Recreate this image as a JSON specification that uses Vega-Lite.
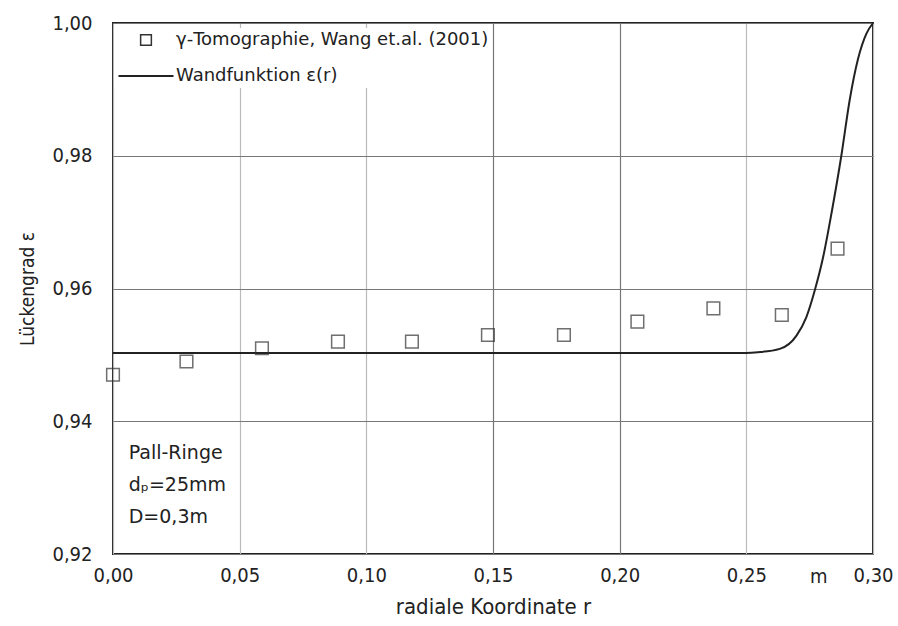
{
  "$schema": "https://vega.github.io/schema/vega-lite/v6.json",
  "width": 760,
  "height": 531,
  "autosize": {"type": "none"},
  "padding": {"left": 113, "top": 23, "right": 25, "bottom": 72},
  "config": {
    "locale": {"number": {"decimal": ",", "thousands": ".", "grouping": [3], "currency": ["", " €"]}},
    "font": "DejaVu Sans Condensed, DejaVu Sans",
    "view": {"stroke": "#222", "strokeWidth": 2},
    "axis": {
      "labelFont": "DejaVu Sans Condensed, DejaVu Sans",
      "labelFontSize": 20,
      "labelColor": "#222",
      "titleFont": "DejaVu Sans Condensed, DejaVu Sans",
      "titleFontWeight": "normal",
      "titleColor": "#222",
      "domain": false,
      "ticks": false,
      "labelFlush": false
    }
  },
  "datasets": {
    "points": [
      {"r": 0.0, "eps": 0.947, "series": "γ-Tomographie, Wang et.al. (2001)"},
      {"r": 0.029, "eps": 0.949, "series": "γ-Tomographie, Wang et.al. (2001)"},
      {"r": 0.0588, "eps": 0.951, "series": "γ-Tomographie, Wang et.al. (2001)"},
      {"r": 0.0888, "eps": 0.952, "series": "γ-Tomographie, Wang et.al. (2001)"},
      {"r": 0.118, "eps": 0.952, "series": "γ-Tomographie, Wang et.al. (2001)"},
      {"r": 0.148, "eps": 0.953, "series": "γ-Tomographie, Wang et.al. (2001)"},
      {"r": 0.178, "eps": 0.953, "series": "γ-Tomographie, Wang et.al. (2001)"},
      {"r": 0.207, "eps": 0.955, "series": "γ-Tomographie, Wang et.al. (2001)"},
      {"r": 0.237, "eps": 0.957, "series": "γ-Tomographie, Wang et.al. (2001)"},
      {"r": 0.264, "eps": 0.956, "series": "γ-Tomographie, Wang et.al. (2001)"},
      {"r": 0.286, "eps": 0.966, "series": "γ-Tomographie, Wang et.al. (2001)"}
    ],
    "curve": [
      {"r": 0.0, "eps": 0.9503, "series": "Wandfunktion ε(r)"},
      {"r": 0.25, "eps": 0.9503, "series": "Wandfunktion ε(r)"},
      {"r": 0.2546, "eps": 0.9504, "series": "Wandfunktion ε(r)"},
      {"r": 0.2632, "eps": 0.9509, "series": "Wandfunktion ε(r)"},
      {"r": 0.2698, "eps": 0.9529, "series": "Wandfunktion ε(r)"},
      {"r": 0.2737, "eps": 0.9557, "series": "Wandfunktion ε(r)"},
      {"r": 0.277, "eps": 0.9597, "series": "Wandfunktion ε(r)"},
      {"r": 0.2803, "eps": 0.9647, "series": "Wandfunktion ε(r)"},
      {"r": 0.2836, "eps": 0.9713, "series": "Wandfunktion ε(r)"},
      {"r": 0.2875, "eps": 0.98, "series": "Wandfunktion ε(r)"},
      {"r": 0.2908, "eps": 0.9884, "series": "Wandfunktion ε(r)"},
      {"r": 0.2941, "eps": 0.9946, "series": "Wandfunktion ε(r)"},
      {"r": 0.2974, "eps": 0.9984, "series": "Wandfunktion ε(r)"},
      {"r": 0.3, "eps": 1.0, "series": "Wandfunktion ε(r)"}
    ],
    "notes": [
      {"r": 0.0062, "eps": 0.9352, "t": "Pall-Ringe"},
      {"r": 0.0062, "eps": 0.9304, "t": "dₚ=25mm"},
      {"r": 0.0062, "eps": 0.9256, "t": "D=0,3m"}
    ],
    "unit": [
      {"r": 0.2786, "eps": 0.92, "t": "m"}
    ]
  },
  "layer": [
    {
      "data": {"name": "curve"},
      "mark": {"type": "line", "strokeWidth": 2, "interpolate": "monotone"},
      "encoding": {
        "x": {
          "field": "r", "type": "quantitative",
          "scale": {"domain": [0, 0.3], "nice": false},
          "title": "radiale Koordinate r",
          "axis": {
            "values": [0, 0.05, 0.1, 0.15, 0.2, 0.25, 0.3],
            "format": ".2f",
            "labelPadding": 11,
            "titleFontSize": 22,
            "titlePadding": 11,
            "grid": true,
            "gridColor": {"condition": {"test": "abs(datum.value - 0.175) < 0.03", "value": "#777"}, "value": "#bbb"},
            "gridWidth": 1.2
          }
        },
        "y": {
          "field": "eps", "type": "quantitative",
          "scale": {"domain": [0.92, 1.0], "nice": false, "zero": false},
          "title": "Lückengrad ε",
          "axis": {
            "values": [0.92, 0.94, 0.96, 0.98, 1.0],
            "format": ".2f",
            "labelPadding": 21,
            "titleFontSize": 19,
            "titlePadding": 14,
            "grid": true,
            "gridColor": "#777",
            "gridWidth": 1.2
          }
        },
        "color": {
          "field": "series", "type": "nominal",
          "scale": {"domain": ["γ-Tomographie, Wang et.al. (2001)", "Wandfunktion ε(r)"], "range": ["#333", "#222"]},
          "legend": {
            "title": null,
            "orient": "none",
            "legendX": 1,
            "legendY": 5,
            "fillColor": "white",
            "padding": 3,
            "labelFont": "DejaVu Sans",
            "labelFontSize": 18,
            "labelColor": "#222",
            "labelLimit": 0,
            "rowPadding": 18,
            "encode": {
              "symbols": {
                "update": {
                  "x": {"value": 29},
                  "shape": {"signal": "datum.value == 'Wandfunktion ε(r)' ? 'stroke' : 'square'"},
                  "size": {"signal": "datum.value == 'Wandfunktion ε(r)' ? 3025 : 115"},
                  "fill": {"value": "transparent"},
                  "stroke": {"value": "#222"},
                  "strokeWidth": {"signal": "datum.value == 'Wandfunktion ε(r)' ? 2 : 1.5"}
                }
              },
              "labels": {
                "update": {
                  "x": {"value": 59}
                }
              }
            }
          }
        }
      }
    },
    {
      "data": {"name": "points"},
      "mark": {"type": "point", "shape": "square", "filled": false, "size": 160, "strokeWidth": 1.5},
      "encoding": {
        "x": {"field": "r", "type": "quantitative"},
        "y": {"field": "eps", "type": "quantitative"},
        "color": {"field": "series", "type": "nominal"}
      }
    },
    {
      "data": {"name": "notes"},
      "mark": {"type": "text", "align": "left", "baseline": "middle", "fontSize": 19, "font": "DejaVu Sans", "color": "#222"},
      "encoding": {
        "x": {"field": "r", "type": "quantitative"},
        "y": {"field": "eps", "type": "quantitative"},
        "text": {"field": "t"}
      }
    },
    {
      "data": {"name": "unit"},
      "mark": {"type": "text", "align": "center", "baseline": "middle", "fontSize": 20, "dy": 23, "font": "DejaVu Sans Condensed, DejaVu Sans", "color": "#222"},
      "encoding": {
        "x": {"field": "r", "type": "quantitative"},
        "y": {"field": "eps", "type": "quantitative"},
        "text": {"field": "t"}
      }
    }
  ]
}
